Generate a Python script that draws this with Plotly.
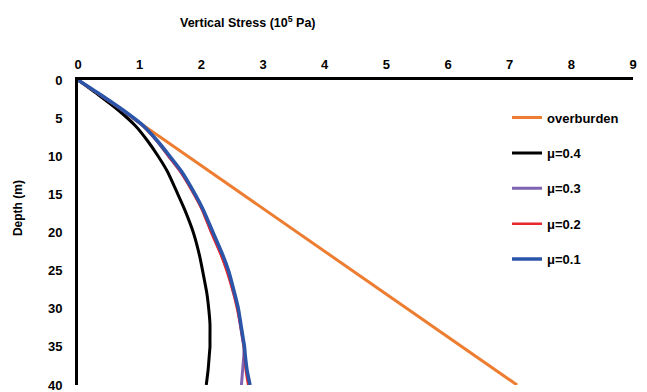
import plotly.graph_objects as go

depth = [0, 2, 4, 6, 8, 10, 12, 15, 17, 20, 23, 25, 28, 30, 32, 34, 35, 36, 38, 40]
overburden_depth = [0, 40]
overburden = [0, 7.12]
mu04 = [0, 0.34, 0.66, 0.93, 1.13, 1.30, 1.45, 1.62, 1.73, 1.87, 1.97, 2.02, 2.09, 2.12, 2.14, 2.14, 2.14, 2.13, 2.11, 2.08]
mu03 = [0, 0.37, 0.73, 1.05, 1.28, 1.47, 1.66, 1.89, 2.02, 2.17, 2.33, 2.42, 2.53, 2.59, 2.63, 2.67, 2.69, 2.69, 2.67, 2.65]
mu02 = [0, 0.37, 0.73, 1.05, 1.28, 1.47, 1.66, 1.88, 2.01, 2.16, 2.32, 2.41, 2.52, 2.58, 2.63, 2.67, 2.69, 2.70, 2.72, 2.76]
mu01 = [0, 0.38, 0.74, 1.06, 1.29, 1.49, 1.68, 1.90, 2.03, 2.19, 2.35, 2.44, 2.54, 2.60, 2.64, 2.68, 2.70, 2.71, 2.74, 2.79]
x_ticks = list(range(0, 10))
y_ticks = list(range(0, 45, 5))

FONT = "Liberation Sans, Arial, sans-serif"

fig = go.Figure()
series = [
    ("overburden", overburden, overburden_depth, "#ED7D31", 3),
    ("\u03bc=0.4", mu04, depth, "#000000", 3),
    ("\u03bc=0.3", mu03, depth, "#8064B4", 3),
    ("\u03bc=0.2", mu02, depth, "#E8262C", 2.5),
    ("\u03bc=0.1", mu01, depth, "#2A55A8", 3.5),
]
for name, xs, ys, col, w in series:
    fig.add_trace(go.Scatter(
        x=xs, y=ys, mode="lines", name=name, legendgroup=name,
        line=dict(color=col, width=w, shape="spline", smoothing=0.6),
    ))

fig.update_layout(
    width=647, height=392,
    margin=dict(l=78, r=14, t=80, b=7),
    plot_bgcolor="white", paper_bgcolor="white",
    font=dict(family=FONT, size=12, color="black"),
    showlegend=True,
    legend=dict(
        x=0.773, y=0.926, xanchor="left", yanchor="top",
        font=dict(family=FONT, size=13, color="black", weight="bold"),
        tracegroupgap=15.5, itemwidth=30,
        bgcolor="rgba(0,0,0,0)",
    ),
    xaxis=dict(
        side="top", range=[0, 9], tickvals=x_ticks, automargin=False,
        showgrid=False, zeroline=False,
        showline=True, linecolor="black", linewidth=3,
        ticks="", ticklabelstandoff=3, ticklabeloverflow="allow",
        tickfont=dict(family=FONT, size=13, weight="bold"),
    ),
    yaxis=dict(
        range=[40, 0], tickvals=y_ticks, automargin=False,
        showgrid=False, zeroline=False,
        showline=True, linecolor="black", linewidth=3,
        ticks="", ticklabelstandoff=10, ticklabeloverflow="allow",
        tickfont=dict(family=FONT, size=13, weight="bold"),
    ),
    annotations=[
        dict(
            text="Vertical Stress (10<sup>5</sup> Pa)",
            xref="paper", yref="paper", x=0.307, y=1.0, yshift=58,
            xanchor="center", yanchor="middle", showarrow=False,
            font=dict(family=FONT, size=12.5, weight="bold"),
        ),
        dict(
            text="Depth (m)", textangle=-90,
            xref="paper", yref="paper", x=0, xshift=-60, y=0.58,
            xanchor="center", yanchor="middle", showarrow=False,
            font=dict(family=FONT, size=12, weight="bold"),
        ),
    ],
)

fig.write_html("out.html")
